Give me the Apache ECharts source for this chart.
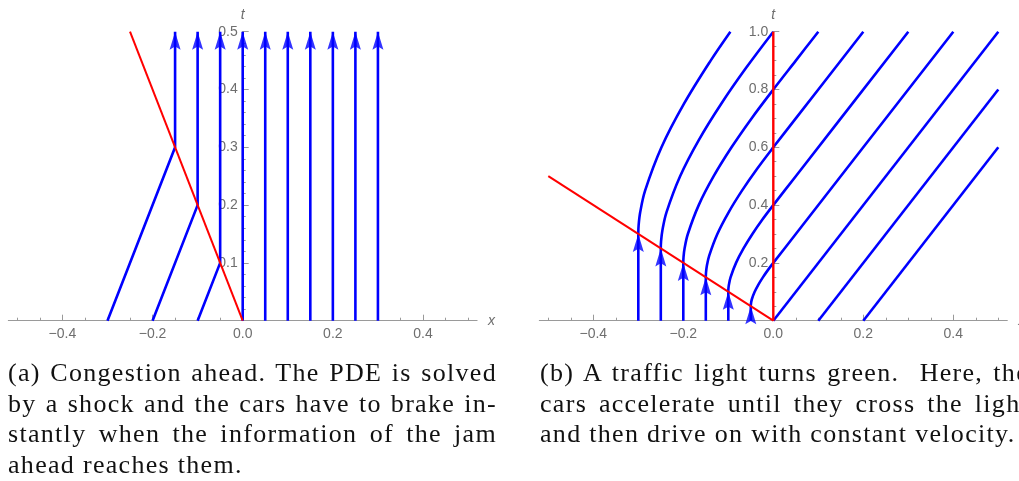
<!DOCTYPE html>
<html>
<head>
<meta charset="utf-8">
<script src="https://cdn.jsdelivr.net/npm/echarts@6/dist/echarts.min.js"></script>
<style>
  html, body { margin: 0; padding: 0; background: #fff; overflow: hidden; }
  #chart { position: absolute; left: 0; top: 0; width: 1019px; height: 481px; }
  .caption {
    position: absolute; top: 358px;
    font-family: "Liberation Serif", "DejaVu Serif", serif;
    font-size: 26px; line-height: 30.5px; letter-spacing: 1.3px; color: #111;
  }
  .caption div { width: 489px; text-align: justify; text-align-last: justify; }
  .caption div.last { text-align-last: left; }
</style>
</head>
<body>
<div id="chart"></div>
<div class="caption" style="left:8px">
  <div>(a) Congestion ahead. The PDE is solved</div>
  <div>by a shock and the cars have to brake in-</div>
  <div>stantly when the information of the jam</div>
  <div class="last">ahead reaches them.</div>
</div>
<div class="caption" style="left:540px">
  <div>(b) A traffic light turns green.&nbsp; Here, the</div>
  <div>cars accelerate until they cross the light</div>
  <div class="last">and then drive on with constant velocity.</div>
</div>
<script>
// ---------- shared axis ticks ----------
const xRange = [-0.52, 0.52];
const xTickLabels = [-0.4, -0.2, 0, 0.2, 0.4];
const xMinorTicks = [-0.5, -0.45, -0.4, -0.35, -0.3, -0.25, -0.2, -0.15, -0.1, -0.05, 0,
                     0.05, 0.1, 0.15, 0.2, 0.25, 0.3, 0.35, 0.4, 0.45, 0.5];

// ---------- (a) congestion ahead ----------
const tRangeA = [0, 0.5];
const tTickLabelsA = [0.1, 0.2, 0.3, 0.4, 0.5];
const tMinorTicksA = [0.02, 0.04, 0.06, 0.08, 0.1, 0.12, 0.14, 0.16, 0.18, 0.2,
                      0.22, 0.24, 0.26, 0.28, 0.3, 0.32, 0.34, 0.36, 0.38, 0.4,
                      0.42, 0.44, 0.46, 0.48, 0.5];
const shockA = [[0, 0], [-0.25, 0.5]];
// cars that drive until the shock reaches them, then stop
const brakingCarsA = [
  [[-0.3, 0], [-0.15, 0.3], [-0.15, 0.5]],
  [[-0.2, 0], [-0.1, 0.2], [-0.1, 0.5]],
  [[-0.1, 0], [-0.05, 0.1], [-0.05, 0.5]]
];
// cars already standing in the jam (x position)
const jammedCarsA = [0, 0.05, 0.1, 0.15, 0.2, 0.25, 0.3];

// ---------- (b) traffic light turns green ----------
const tRangeB = [0, 1];
const tTickLabelsB = [0.2, 0.4, 0.6, 0.8, 1.0];
const tMinorTicksB = [0.05, 0.1, 0.15, 0.2, 0.25, 0.3, 0.35, 0.4, 0.45, 0.5,
                      0.55, 0.6, 0.65, 0.7, 0.75, 0.8, 0.85, 0.9, 0.95, 1.0];
const fanEdgeB = [[0, 0], [-0.5, 0.5]];
const lightB = [[0, 0], [0, 1]];
// waiting cars: stand still, then accelerate through the light
const waitingCarsB = [
  [[-0.3, 0], [-0.3, 0.3], [-0.2993, 0.33], [-0.2958, 0.375], [-0.2849, 0.45], [-0.2485, 0.6], [-0.1987, 0.75], [-0.1392, 0.9], [-0.0954, 1.0]],
  [[-0.25, 0], [-0.25, 0.25], [-0.2494, 0.275], [-0.2465, 0.3125], [-0.2374, 0.375], [-0.2071, 0.5], [-0.1656, 0.625], [-0.116, 0.75], [-0.0604, 0.875], [0, 1.0]],
  [[-0.2, 0], [-0.2, 0.2], [-0.1995, 0.22], [-0.1972, 0.25], [-0.1899, 0.3], [-0.1657, 0.4], [-0.1325, 0.5], [-0.0928, 0.6], [-0.0483, 0.7], [0, 0.8], [0.05, 0.9], [0.1, 1.0]],
  [[-0.15, 0], [-0.15, 0.15], [-0.1496, 0.165], [-0.1479, 0.1875], [-0.1424, 0.225], [-0.1243, 0.3], [-0.0993, 0.375], [-0.0696, 0.45], [-0.0363, 0.525], [0, 0.6], [0.05, 0.7], [0.2, 1.0]],
  [[-0.1, 0], [-0.1, 0.1], [-0.0998, 0.11], [-0.0986, 0.125], [-0.095, 0.15], [-0.0828, 0.2], [-0.0662, 0.25], [-0.0464, 0.3], [-0.0242, 0.35], [0, 0.4], [0.05, 0.5], [0.3, 1.0]],
  [[-0.05, 0], [-0.05, 0.05], [-0.0499, 0.055], [-0.0493, 0.0625], [-0.0475, 0.075], [-0.0414, 0.1], [-0.0331, 0.125], [-0.0232, 0.15], [-0.0121, 0.175], [0, 0.2], [0.05, 0.3], [0.4, 1.0]]
];
// cars already past the light, constant velocity
const movingCarsB = [
  [[0, 0], [0.5, 1.0]],
  [[0.1, 0], [0.5, 0.8]],
  [[0.2, 0], [0.5, 0.6]]
];

// ---------- styling / layout ----------
const BLUE = '#0000ff';
const RED = '#ff0000';
const AXIS = '#9a9a9a';
const LABEL = '#6e6e6e';
const ARROW = 'path://M0,0L6,20L0,16.5L-6,20Z';
const grids = [
  { left: 8.3, top: 31.7, width: 468.8, height: 289 },
  { left: 539.3, top: 31.7, width: 468, height: 289 }
];

const fmt = v => (v < 0 ? '\u2212' : '') + Math.abs(v).toFixed(1);

// pixel distance from the grid's left edge to x = 0, used to put the t-axis through the origin
function zeroOffset(gridIndex) {
  return -(0 - xRange[0]) / (xRange[1] - xRange[0]) * grids[gridIndex].width;
}

function xAxes(gridIndex) {
  return [
    {
      type: 'value', gridIndex, min: xRange[0], max: xRange[1], position: 'bottom',
      name: 'x', nameLocation: 'end', nameGap: 11,
      nameTextStyle: { color: LABEL, fontStyle: 'italic', fontFamily: 'Liberation Sans', fontSize: 14 },
      axisLine: { onZero: false, lineStyle: { color: AXIS, width: 1 } },
      axisTick: { show: true, inside: true, length: 3, customValues: xMinorTicks, lineStyle: { color: AXIS } },
      axisLabel: { customValues: xTickLabels, formatter: fmt, color: LABEL, fontSize: 14,
                   fontFamily: 'Liberation Sans', margin: 6 },
      splitLine: { show: false }
    },
    {
      type: 'value', gridIndex, min: xRange[0], max: xRange[1], position: 'bottom',
      axisLine: { show: false, onZero: false },
      axisTick: { show: true, inside: true, length: 6, customValues: xTickLabels, lineStyle: { color: AXIS } },
      axisLabel: { show: false },
      splitLine: { show: false }
    }
  ];
}

function yAxes(gridIndex, range, labels, minor) {
  const offset = zeroOffset(gridIndex);
  return [
    {
      type: 'value', gridIndex, min: range[0], max: range[1], position: 'left', offset,
      name: 't', nameLocation: 'end', nameGap: 10,
      nameTextStyle: { color: LABEL, fontStyle: 'italic', fontFamily: 'Liberation Sans', fontSize: 14,
                       align: 'center' },
      axisLine: { show: true, onZero: false, lineStyle: { color: AXIS, width: 1 } },
      axisTick: { show: true, inside: true, length: 3, customValues: minor, lineStyle: { color: AXIS } },
      axisLabel: { customValues: labels, formatter: fmt, color: LABEL, fontSize: 14,
                   fontFamily: 'Liberation Sans', margin: 5 },
      splitLine: { show: false }
    },
    {
      type: 'value', gridIndex, min: range[0], max: range[1], position: 'left', offset,
      axisLine: { show: false, onZero: false },
      axisTick: { show: true, inside: true, length: 6, customValues: labels, lineStyle: { color: AXIS } },
      axisLabel: { show: false },
      splitLine: { show: false }
    }
  ];
}

function path(data, axisIndex, color, width, z, smooth) {
  return {
    type: 'line', xAxisIndex: axisIndex, yAxisIndex: axisIndex, data,
    showSymbol: false, symbol: 'none', smooth: smooth || false, clip: false, silent: true, z,
    lineStyle: { color, width, cap: 'butt' }
  };
}

function arrows(tips, axisIndex) {
  return {
    type: 'scatter', xAxisIndex: axisIndex, yAxisIndex: axisIndex, data: tips,
    symbol: ARROW, symbolSize: [11, 18], symbolOffset: [0, 9], clip: false, silent: true, z: 6,
    itemStyle: { color: BLUE }
  };
}

const series = [];
// (a)
brakingCarsA.forEach(p => series.push(path(p, 0, BLUE, 2.6, 3)));
jammedCarsA.forEach(x => series.push(path([[x, tRangeA[0]], [x, tRangeA[1]]], 0, BLUE, 2.6, 3)));
series.push(path(shockA, 0, RED, 2, 4));
series.push(arrows(
  brakingCarsA.map(p => p[p.length - 1]).concat(jammedCarsA.map(x => [x, tRangeA[1]])), 0));
// (b)
waitingCarsB.forEach(p => series.push(path(p, 2, BLUE, 2.6, 3, 0.35)));
movingCarsB.forEach(p => series.push(path(p, 2, BLUE, 2.6, 3)));
series.push(path(fanEdgeB, 2, RED, 2, 4));
series.push(path(lightB, 2, RED, 2.4, 4));
series.push(arrows(waitingCarsB.map(p => p[1]), 2));

const chart = echarts.init(document.getElementById('chart'), null, { renderer: 'canvas' });
chart.setOption({
  animation: false,
  backgroundColor: '#fff',
  grid: grids.map(g => Object.assign({ containLabel: false, outerBoundsMode: 'none' }, g)),
  xAxis: [...xAxes(0), ...xAxes(1)],
  yAxis: [...yAxes(0, tRangeA, tTickLabelsA, tMinorTicksA), ...yAxes(1, tRangeB, tTickLabelsB, tMinorTicksB)],
  series
});
</script>
</body>
</html>
